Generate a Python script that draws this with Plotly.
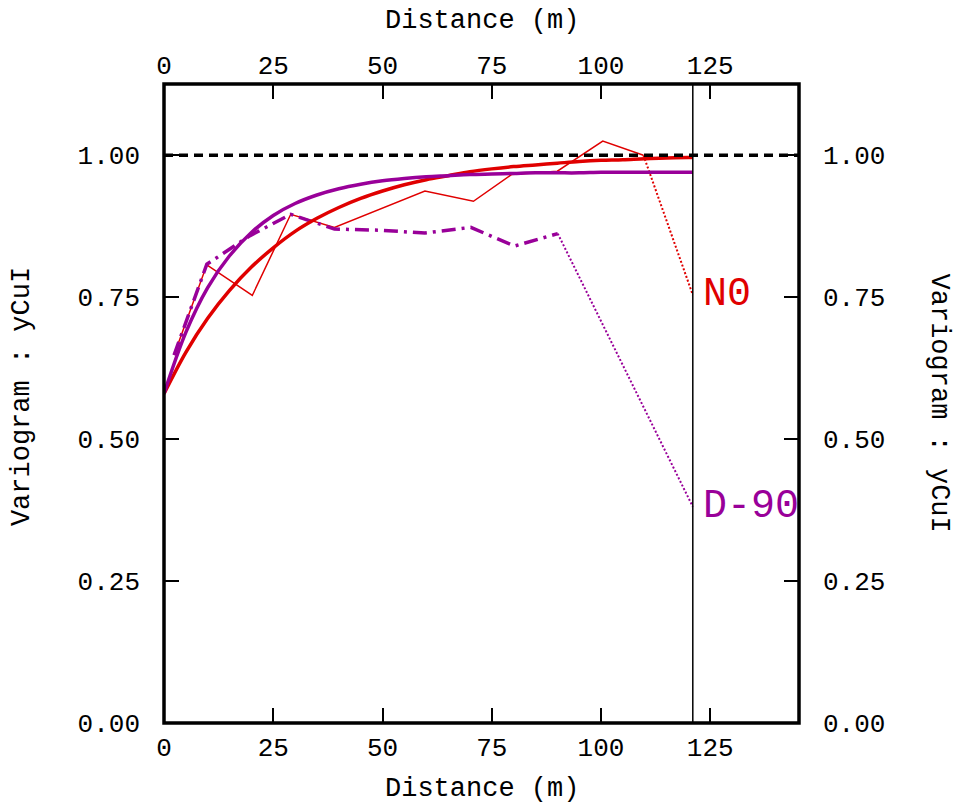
import plotly.graph_objects as go

# Lag distances (m) and experimental variogram values, direction N0
n0_lag = [2.3, 9.8, 20.2, 29.0, 39.0, 49.5, 59.7, 70.8, 79.5, 90.0, 100.4, 109.7]
n0_gamma = [0.648, 0.807, 0.753, 0.896, 0.873, 0.905, 0.937, 0.919, 0.966, 0.972, 1.025, 1.000]
# last lag (few pairs), joined with a dotted segment
n0_last_lag = 121.0
n0_last_gamma = 0.754

# Experimental variogram, direction D-90
d90_lag = [2.3, 9.8, 19.6, 29.0, 39.0, 49.5, 59.7, 70.2, 80.2, 90.1]
d90_gamma = [0.648, 0.808, 0.858, 0.896, 0.870, 0.868, 0.863, 0.873, 0.840, 0.862]
d90_last_lag = 121.0
d90_last_gamma = 0.381

# Fitted models sampled along distance
model_lag = [0, 5, 10, 15, 20, 25, 30, 35, 40, 45, 50, 55, 60, 65, 70, 75, 80,
             85, 90, 95, 100, 105, 110, 115, 120, 121]
n0_model = [0.580, 0.653, 0.713, 0.762, 0.803, 0.837, 0.866, 0.889, 0.908, 0.924,
            0.937, 0.948, 0.957, 0.964, 0.971, 0.976, 0.980, 0.983, 0.986, 0.989,
            0.991, 0.992, 0.994, 0.995, 0.996, 0.996]
d90_model = [0.580, 0.688, 0.767, 0.823, 0.864, 0.894, 0.915, 0.930, 0.941, 0.949,
             0.955, 0.959, 0.962, 0.964, 0.966, 0.967, 0.968, 0.969, 0.969, 0.969,
             0.970, 0.970, 0.970, 0.970, 0.970, 0.970]

sill = 1.0
max_lag = 121.0

x_ticks = [0, 25, 50, 75, 100, 125]
y_ticks = [0.0, 0.25, 0.5, 0.75, 1.0]
y_tick_text = ["0.00", "0.25", "0.50", "0.75", "1.00"]

x_range = [0, 145.3]
y_range = [0, 1.1255]

RED = "#e00000"
PURPLE = "#990099"
FONT = "Liberation Mono"

fig = go.Figure()

# experimental N0
fig.add_trace(go.Scatter(x=n0_lag, y=n0_gamma, mode="lines",
                         line=dict(color=RED, width=1.5), showlegend=False))
fig.add_trace(go.Scatter(x=[n0_lag[-1], n0_last_lag], y=[n0_gamma[-1], n0_last_gamma],
                         mode="lines", line=dict(color=RED, width=2, dash="2px,2px"),
                         showlegend=False))
# experimental D-90
fig.add_trace(go.Scatter(x=d90_lag, y=d90_gamma, mode="lines",
                         line=dict(color=PURPLE, width=3.5, dash="14px,6px,3px,6px"),
                         showlegend=False))
fig.add_trace(go.Scatter(x=[d90_lag[-1], d90_last_lag], y=[d90_gamma[-1], d90_last_gamma],
                         mode="lines", line=dict(color=PURPLE, width=2, dash="2px,2px"),
                         showlegend=False))
# models
fig.add_trace(go.Scatter(x=model_lag, y=n0_model, mode="lines",
                         line=dict(color=RED, width=3.5, shape="spline"), showlegend=False))
fig.add_trace(go.Scatter(x=model_lag, y=d90_model, mode="lines",
                         line=dict(color=PURPLE, width=3.5, shape="spline"), showlegend=False))
# placeholder for the secondary axes
fig.add_trace(go.Scatter(x=[None], y=[None], xaxis="x2", yaxis="y2", showlegend=False))

# sill
fig.add_shape(type="line", xref="paper", yref="y", x0=0, x1=1, y0=sill, y1=sill,
              line=dict(color="black", width=3.5, dash="9px,6px"), layer="above")
# limit of the computed lags
fig.add_shape(type="line", xref="x", yref="paper", x0=max_lag, x1=max_lag, y0=0, y1=1,
              line=dict(color="black", width=1.5))
# frame
fig.add_shape(type="rect", xref="paper", yref="paper", x0=0, x1=1, y0=0, y1=1,
              line=dict(color="black", width=3.5), layer="above")

tick_font = dict(family=FONT, size=26, color="black")
common_x = dict(range=x_range, tickmode="array", tickvals=x_ticks,
                ticks="inside", ticklen=15, tickwidth=1.5, tickcolor="black",
                showgrid=False, zeroline=False, showline=False, tickfont=tick_font)
common_y = dict(range=y_range, tickmode="array", tickvals=y_ticks, ticktext=y_tick_text,
                ticks="inside", ticklen=15, tickwidth=1.5, tickcolor="black",
                showgrid=False, zeroline=False, showline=False, tickfont=tick_font)

fig.update_layout(
    width=957, height=805,
    margin=dict(l=164, r=158, t=84, b=82, pad=0),
    plot_bgcolor="white", paper_bgcolor="white",
    xaxis=dict(**common_x, side="bottom", ticklabelstandoff=6),
    xaxis2=dict(**common_x, side="top", overlaying="x", ticklabelstandoff=4),
    yaxis=dict(**common_y, side="left", ticklabelstandoff=23),
    yaxis2=dict(**common_y, side="right", overlaying="y", ticklabelstandoff=23),
    font=dict(family=FONT, color="black"),
)

title_font = dict(family=FONT, size=27, color="black")
fig.add_annotation(text="Distance (m)", xref="paper", yref="paper", x=0.5, y=1.098,
                   xanchor="center", yanchor="middle", showarrow=False, font=title_font)
fig.add_annotation(text="Distance (m)", xref="paper", yref="paper", x=0.5, y=-0.1033,
                   xanchor="center", yanchor="middle", showarrow=False, font=title_font)
fig.add_annotation(text="Variogram : yCuI", xref="paper", yref="paper", x=-0.2236, y=0.51,
                   xanchor="center", yanchor="middle", textangle=-90, showarrow=False,
                   font=title_font)
fig.add_annotation(text="Variogram : yCuI", xref="paper", yref="paper", x=1.222, y=0.5,
                   xanchor="center", yanchor="middle", textangle=90, showarrow=False,
                   font=title_font)

label_font = 40
fig.add_annotation(text="N0", x=n0_last_lag, y=n0_last_gamma, xanchor="left", yanchor="middle",
                   xshift=8, showarrow=False, font=dict(family=FONT, size=label_font, color=RED))
fig.add_annotation(text="D-90", x=d90_last_lag, y=d90_last_gamma, xanchor="left", yanchor="middle",
                   xshift=8, showarrow=False, font=dict(family=FONT, size=label_font, color=PURPLE))

fig.write_html("out.html")
